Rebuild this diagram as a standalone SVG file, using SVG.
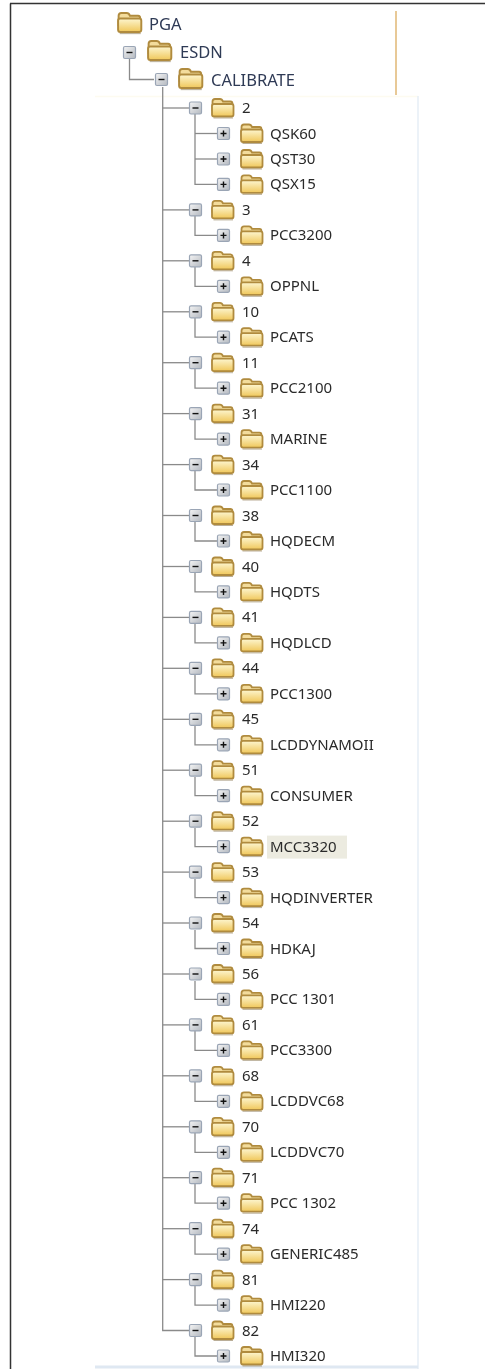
<svg xmlns="http://www.w3.org/2000/svg" width="485" height="1369" viewBox="0 0 485 1369">
<style>
.t{font-family:"Noto Sans","DejaVu Sans",sans-serif;font-size:15px;fill:#2a2a2a;filter:url(#soft)}
.d{fill:#2f3a55;font-size:16.5px}
.c{fill:none;stroke:#8a8a8a;stroke-width:1.3}
.bx{fill:url(#bg);stroke:#9aa5b5;stroke-width:1.2}
.g{stroke:#111;stroke-width:1.4;fill:none}
.fb{fill:url(#fg);stroke:#b08b3e;stroke-width:1.800}
.ft{fill:#f3dc9c;stroke:#b08b3e;stroke-width:1.800}
</style>
<defs>
<filter id="soft" x="-5%" y="-20%" width="110%" height="140%"><feGaussianBlur stdDeviation="0.3"/></filter>
<linearGradient id="fg" x1="0" y1="0" x2="0" y2="1"><stop offset="0" stop-color="#fdf6d0"/><stop offset="1" stop-color="#f0c75a"/></linearGradient>
<linearGradient id="bg" x1="0" y1="0" x2="1" y2="1"><stop offset="0" stop-color="#f4f4f4"/><stop offset="1" stop-color="#b4b9c0"/></linearGradient>
<g id="minus"><rect class="bx" x="0.5" y="0.5" width="12" height="12" rx="1.5"/><path class="g" d="M3.5 6.5H9.5"/></g>
<g id="plus"><rect class="bx" x="0.5" y="0.5" width="12" height="12" rx="1.5"/><path class="g" d="M3.5 6.5H9.5M6.5 3.500V9.500"/></g>
<g id="folder"><path class="ft" d="M1.500 12V3.500Q1.500 1 4 1H9Q11 1 12 3.500H19.500Q21.500 3.500 21.500 6V12Z"/><path class="fb" d="M1 16.500V8Q1 6 3 6H20.500Q22.500 6 22.500 8V16.500Q22.500 18.500 20.500 18.500H3Q1 18.500 1 16.500Z"/><path d="M2.500 20H22" stroke="#8d7a55" stroke-width="1" opacity=".6"/></g>
<g id="folder-big"><use href="#folder" transform="scale(1.08)"/></g>
<g id="mid"><use href="#minus" x="189" y="-6.500"/><use href="#folder" x="211" y="-10"/></g>
<g id="leaf"><use href="#plus" x="217" y="-6.500"/><use href="#folder" x="240" y="-10"/></g>
</defs>
<rect width="485" height="1369" fill="#fff"/>
<g id="frame" fill="none">
<path d="M10 3.500H485" stroke="#333" stroke-width="1.500"/>
<path d="M10.500 3.500V1369" stroke="#333" stroke-width="1.500"/>
<path d="M396 11V95" stroke="#e3bc7d" stroke-width="1.600"/>
<path d="M95 96.500H418" stroke="#fdfbf0" stroke-width="1.500"/>
<path d="M418 96V1369" stroke="#e6eef6" stroke-width="1.500"/>
<path d="M95 1367H418" stroke="#dfe8f2" stroke-width="3"/>
</g>
<g id="connectors">
<path class="c" d="M129.500 58V79.500H154"/>
<path class="c" d="M162.700 87V1330.500H189"/>
<path class="c" d="M162.700 108H189"/><path class="c" d="M195 114V184.400H217"/><path class="c" d="M195 133.500H217"/><path class="c" d="M195 159H217"/>
<path class="c" d="M162.700 209.900H189"/><path class="c" d="M195 216V235.400H217"/>
<path class="c" d="M162.700 260.800H189"/><path class="c" d="M195 267V286.300H217"/>
<path class="c" d="M162.700 311.800H189"/><path class="c" d="M195 318V337.200H217"/>
<path class="c" d="M162.700 362.700H189"/><path class="c" d="M195 369V388.200H217"/>
<path class="c" d="M162.700 413.600H189"/><path class="c" d="M195 420V439.100H217"/>
<path class="c" d="M162.700 464.600H189"/><path class="c" d="M195 471V490H217"/>
<path class="c" d="M162.700 515.500H189"/><path class="c" d="M195 522V541H217"/>
<path class="c" d="M162.700 566.500H189"/><path class="c" d="M195 573V591.900H217"/>
<path class="c" d="M162.700 617.400H189"/><path class="c" d="M195 624V642.900H217"/>
<path class="c" d="M162.700 668.300H189"/><path class="c" d="M195 675V693.800H217"/>
<path class="c" d="M162.700 719.300H189"/><path class="c" d="M195 726V744.800H217"/>
<path class="c" d="M162.700 770.200H189"/><path class="c" d="M195 777V795.700H217"/>
<path class="c" d="M162.700 821.200H189"/><path class="c" d="M195 828V846.600H217"/>
<path class="c" d="M162.700 872.100H189"/><path class="c" d="M195 879V897.600H217"/>
<path class="c" d="M162.700 923H189"/><path class="c" d="M195 930V948.500H217"/>
<path class="c" d="M162.700 974H189"/><path class="c" d="M195 981V999.400H217"/>
<path class="c" d="M162.700 1024.900H189"/><path class="c" d="M195 1031V1050.400H217"/>
<path class="c" d="M162.700 1075.800H189"/><path class="c" d="M195 1082V1101.300H217"/>
<path class="c" d="M162.700 1126.800H189"/><path class="c" d="M195 1133V1152.300H217"/>
<path class="c" d="M162.700 1177.700H189"/><path class="c" d="M195 1184V1203.200H217"/>
<path class="c" d="M162.700 1228.700H189"/><path class="c" d="M195 1235V1254.100H217"/>
<path class="c" d="M162.700 1279.600H189"/><path class="c" d="M195 1286V1305.100H217"/>
<path class="c" d="M195 1337V1356H217"/>
</g>
<g id="n-pga"><use href="#folder-big" x="117" y="12"/><text class="t d" x="149" y="30">PGA</text></g>
<g id="n-esdn"><use href="#minus" x="123" y="46"/><use href="#folder-big" x="147" y="40"/><text class="t d" x="180" y="58">ESDN</text></g>
<g id="n-calibrate"><use href="#minus" x="155" y="73"/><use href="#folder-big" x="178" y="68"/><text class="t d" x="211" y="86">CALIBRATE</text></g>
<g id="n-2" transform="translate(0,108)"><use href="#mid"/><text class="t" x="242" y="5">2</text></g>
<g id="n-qsk60" transform="translate(0,133.500)"><use href="#leaf"/><text class="t" x="270" y="5">QSK60</text></g>
<g id="n-qst30" transform="translate(0,159)"><use href="#leaf"/><text class="t" x="270" y="5">QST30</text></g>
<g id="n-qsx15" transform="translate(0,184.400)"><use href="#leaf"/><text class="t" x="270" y="5">QSX15</text></g>
<g id="n-3" transform="translate(0,209.900)"><use href="#mid"/><text class="t" x="242" y="5">3</text></g>
<g id="n-pcc3200" transform="translate(0,235.400)"><use href="#leaf"/><text class="t" x="270" y="5">PCC3200</text></g>
<g id="n-4" transform="translate(0,260.800)"><use href="#mid"/><text class="t" x="242" y="5">4</text></g>
<g id="n-oppnl" transform="translate(0,286.300)"><use href="#leaf"/><text class="t" x="270" y="5">OPPNL</text></g>
<g id="n-10" transform="translate(0,311.800)"><use href="#mid"/><text class="t" x="242" y="5">10</text></g>
<g id="n-pcats" transform="translate(0,337.200)"><use href="#leaf"/><text class="t" x="270" y="5">PCATS</text></g>
<g id="n-11" transform="translate(0,362.700)"><use href="#mid"/><text class="t" x="242" y="5">11</text></g>
<g id="n-pcc2100" transform="translate(0,388.200)"><use href="#leaf"/><text class="t" x="270" y="5">PCC2100</text></g>
<g id="n-31" transform="translate(0,413.600)"><use href="#mid"/><text class="t" x="242" y="5">31</text></g>
<g id="n-marine" transform="translate(0,439.100)"><use href="#leaf"/><text class="t" x="270" y="5">MARINE</text></g>
<g id="n-34" transform="translate(0,464.600)"><use href="#mid"/><text class="t" x="242" y="5">34</text></g>
<g id="n-pcc1100" transform="translate(0,490)"><use href="#leaf"/><text class="t" x="270" y="5">PCC1100</text></g>
<g id="n-38" transform="translate(0,515.500)"><use href="#mid"/><text class="t" x="242" y="5">38</text></g>
<g id="n-hqdecm" transform="translate(0,541)"><use href="#leaf"/><text class="t" x="270" y="5">HQDECM</text></g>
<g id="n-40" transform="translate(0,566.500)"><use href="#mid"/><text class="t" x="242" y="5">40</text></g>
<g id="n-hqdts" transform="translate(0,591.900)"><use href="#leaf"/><text class="t" x="270" y="5">HQDTS</text></g>
<g id="n-41" transform="translate(0,617.400)"><use href="#mid"/><text class="t" x="242" y="5">41</text></g>
<g id="n-hqdlcd" transform="translate(0,642.900)"><use href="#leaf"/><text class="t" x="270" y="5">HQDLCD</text></g>
<g id="n-44" transform="translate(0,668.300)"><use href="#mid"/><text class="t" x="242" y="5">44</text></g>
<g id="n-pcc1300" transform="translate(0,693.800)"><use href="#leaf"/><text class="t" x="270" y="5">PCC1300</text></g>
<g id="n-45" transform="translate(0,719.300)"><use href="#mid"/><text class="t" x="242" y="5">45</text></g>
<g id="n-lcddynamoii" transform="translate(0,744.800)"><use href="#leaf"/><text class="t" x="270" y="5">LCDDYNAMOII</text></g>
<g id="n-51" transform="translate(0,770.200)"><use href="#mid"/><text class="t" x="242" y="5">51</text></g>
<g id="n-consumer" transform="translate(0,795.700)"><use href="#leaf"/><text class="t" x="270" y="5">CONSUMER</text></g>
<g id="n-52" transform="translate(0,821.200)"><use href="#mid"/><text class="t" x="242" y="5">52</text></g>
<g id="n-mcc3320" transform="translate(0,846.600)"><rect x="267" y="-11" width="80" height="23" fill="#ecebe0"/><use href="#leaf"/><text class="t" x="270" y="5">MCC3320</text></g>
<g id="n-53" transform="translate(0,872.100)"><use href="#mid"/><text class="t" x="242" y="5">53</text></g>
<g id="n-hqdinverter" transform="translate(0,897.600)"><use href="#leaf"/><text class="t" x="270" y="5">HQDINVERTER</text></g>
<g id="n-54" transform="translate(0,923)"><use href="#mid"/><text class="t" x="242" y="5">54</text></g>
<g id="n-hdkaj" transform="translate(0,948.500)"><use href="#leaf"/><text class="t" x="270" y="5">HDKAJ</text></g>
<g id="n-56" transform="translate(0,974)"><use href="#mid"/><text class="t" x="242" y="5">56</text></g>
<g id="n-pcc1301" transform="translate(0,999.400)"><use href="#leaf"/><text class="t" x="270" y="5">PCC 1301</text></g>
<g id="n-61" transform="translate(0,1024.900)"><use href="#mid"/><text class="t" x="242" y="5">61</text></g>
<g id="n-pcc3300" transform="translate(0,1050.400)"><use href="#leaf"/><text class="t" x="270" y="5">PCC3300</text></g>
<g id="n-68" transform="translate(0,1075.800)"><use href="#mid"/><text class="t" x="242" y="5">68</text></g>
<g id="n-lcddvc68" transform="translate(0,1101.300)"><use href="#leaf"/><text class="t" x="270" y="5">LCDDVC68</text></g>
<g id="n-70" transform="translate(0,1126.800)"><use href="#mid"/><text class="t" x="242" y="5">70</text></g>
<g id="n-lcddvc70" transform="translate(0,1152.300)"><use href="#leaf"/><text class="t" x="270" y="5">LCDDVC70</text></g>
<g id="n-71" transform="translate(0,1177.700)"><use href="#mid"/><text class="t" x="242" y="5">71</text></g>
<g id="n-pcc1302" transform="translate(0,1203.200)"><use href="#leaf"/><text class="t" x="270" y="5">PCC 1302</text></g>
<g id="n-74" transform="translate(0,1228.700)"><use href="#mid"/><text class="t" x="242" y="5">74</text></g>
<g id="n-generic485" transform="translate(0,1254.100)"><use href="#leaf"/><text class="t" x="270" y="5">GENERIC485</text></g>
<g id="n-81" transform="translate(0,1279.600)"><use href="#mid"/><text class="t" x="242" y="5">81</text></g>
<g id="n-hmi220" transform="translate(0,1305.100)"><use href="#leaf"/><text class="t" x="270" y="5">HMI220</text></g>
<g id="n-82" transform="translate(0,1330.500)"><use href="#mid"/><text class="t" x="242" y="5">82</text></g>
<g id="n-hmi320" transform="translate(0,1356)"><use href="#leaf"/><text class="t" x="270" y="5">HMI320</text></g>
</svg>
